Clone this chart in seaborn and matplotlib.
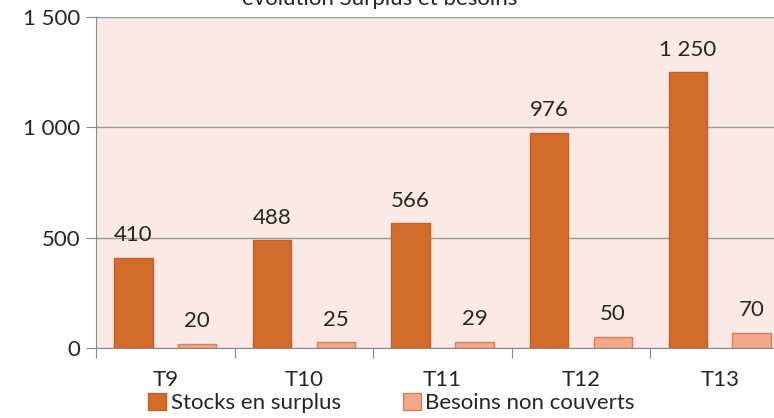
import numpy as np
import pandas as pd
import matplotlib.pyplot as plt
import seaborn as sns
from matplotlib.patches import Patch
from matplotlib.ticker import FuncFormatter

periods = ['T9', 'T10', 'T11', 'T12', 'T13']
surplus = [410, 488, 566, 976, 1250]
besoins = [20, 25, 29, 50, 70]
series = ['Stocks en surplus', 'Besoins non couverts']
colors = ['#D36B2A', '#F2A98A']
edges = ['#C0602A', '#D97E5A']


def fmt(v):
    return f'{int(round(v)):,}'.replace(',', ' ')


df = pd.DataFrame({
    'periode': periods * 2,
    'valeur': surplus + besoins,
    'serie': [series[0]] * len(periods) + [series[1]] * len(periods),
})

sns.set_style('white')
plt.rcParams['font.family'] = ['Lato', 'DejaVu Sans']

fig = plt.figure(figsize=(7.74, 4.18), dpi=100)
ax = fig.add_axes([96 / 774, 70 / 418, 693 / 774, 331 / 418])
ax.set_facecolor('#FBE9E5')

sns.barplot(data=df, x='periode', y='valeur', hue='serie', palette=colors,
            saturation=1, width=0.92, gap=0.4, ax=ax, legend=False, linewidth=1)

for i, cont in enumerate(ax.containers):
    for bar in cont:
        bar.set_edgecolor(edges[i])
    ax.bar_label(cont, labels=[fmt(v) for v in cont.datavalues],
                 padding=9, fontsize=16)

ax.set_xlim(-0.5, 4.5)
ax.set_ylim(0, 1500)
ax.set_yticks([0, 500, 1000, 1500])
ax.yaxis.set_major_formatter(FuncFormatter(lambda v, p: fmt(v)))
ax.set_xticks(np.arange(-0.5, 5, 1), minor=False)
ax.set_xticklabels([])
ax.set_xticks(range(5), minor=True)
ax.set_xticklabels(periods, minor=True)
ax.tick_params(axis='x', which='major', length=7, color='#888888', direction='out', bottom=True)
ax.tick_params(axis='x', which='minor', length=0, labelsize=16, pad=16)
ax.tick_params(axis='y', length=7, color='#888888', direction='out', left=True, labelsize=16, pad=4)
ax.grid(axis='y', color='#999999', linewidth=1)
ax.set_axisbelow(True)
for s in ['top', 'right']:
    ax.spines[s].set_visible(False)
for s in ['left', 'bottom']:
    ax.spines[s].set_color('#888888')
ax.set_xlabel('')
ax.set_ylabel('')

fig.text(0.49, 1 - 5 / 418, 'évolution Surplus et besoins', ha='center', va='baseline', fontsize=16)

handles = [Patch(facecolor=colors[i], edgecolor=edges[i], label=series[i]) for i in range(2)]
fig.legend(handles=handles, loc='center', bbox_to_anchor=(0.506, 15 / 418), ncol=2,
           frameon=False, fontsize=16, handlelength=0.8, handleheight=0.8,
           handletextpad=0.2, columnspacing=2.8)

fig.savefig('out.png', dpi=100)
